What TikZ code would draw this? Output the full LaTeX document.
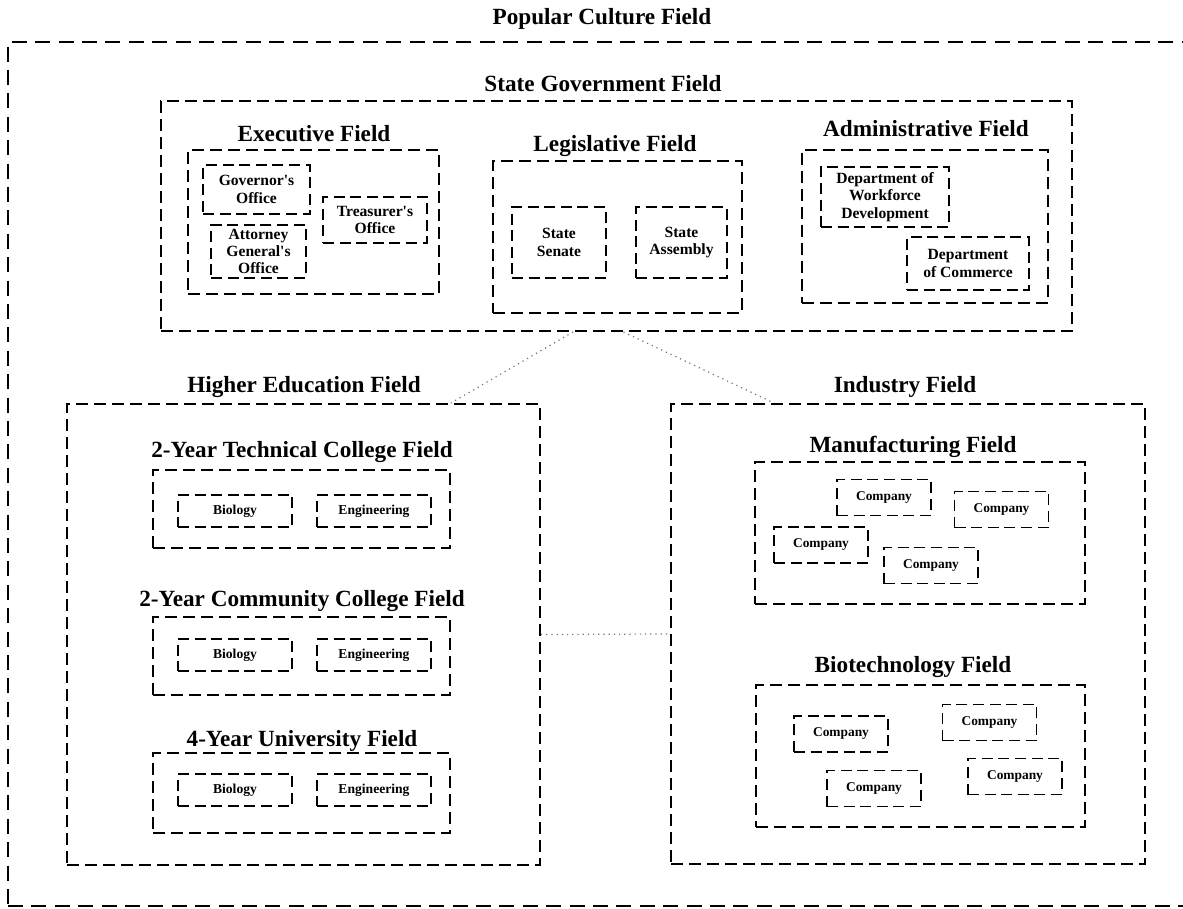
\documentclass[tikz,border=0pt]{standalone}
\usepackage{fontspec}
\setmainfont{Liberation Serif}
\usetikzlibrary{fit}
\newcommand{\ap}{\textquotesingle}
\tikzset{
  outerfield/.style={draw, line width=1pt, dash pattern=on 7.5pt off 4.2pt, inner sep=0pt},
  field/.style={draw, line width=1pt, dash pattern=on 6pt off 3pt, inner sep=0pt},
  office/.style={draw, line width=0.85pt, dash pattern=on 5.5pt off 2.8pt, inner sep=0pt, align=center,
    font=\fontsize{7.8}{8.7}\selectfont\bfseries},
  subject/.style={office, minimum width=57pt, minimum height=16pt, font=\fontsize{6.8}{8}\selectfont\bfseries},
  company/.style={office, minimum width=47pt, minimum height=18pt, font=\fontsize{6.7}{8}\selectfont\bfseries},
  fieldname/.style={anchor=base, font=\fontsize{11.6}{13}\selectfont\bfseries},
  link/.style={dotted, line width=0.6pt, black!55},
}

\begin{document}
\begin{tikzpicture}[x=0.5pt, y=-0.5pt]
  \useasboundingbox (0,0) rectangle (1183,909);
  \clip (0,0) rectangle (1183,909);

  % popular culture
  \node[fieldname] (popularname) at (602,25) {Popular Culture Field};
  \node[outerfield, fit={(8,42) (1200,906)}] (popular) {};

  % state government
  \node[fieldname] (statename) at (603,92) {State Government Field};
  \node[field, fit={(161,101) (1072,331)}] (state) {};

  \node[fieldname] (execname) at (314,141.5) {Executive Field};
  \node[field, fit={(188,150) (439,294)}] (exec) {};
  \node[office, minimum width=53.5pt, minimum height=24.5pt] (governor) at (256.5,189.5) {Governor\ap s\\Office};
  \node[office, minimum width=52pt, minimum height=23pt] (treasurer) at (375,220) {Treasurer\ap s\\Office};
  \node[office, minimum width=47.5pt, minimum height=26.5pt] (attorney) at (258.5,251.5) {Attorney\\General\ap s\\Office};

  \node[fieldname] (legisname) at (615,151.5) {Legislative Field};
  \node[field, fit={(493,161) (742,313)}] (legis) {};
  \node[office, minimum width=47pt, minimum height=35.5pt] (senate) at (559,242.5) {State\\Senate};
  \node[office, minimum width=45.5pt, minimum height=35.5pt] (assembly) at (681.5,242.5) {State\\Assembly};

  \node[fieldname] (adminname) at (926,136.5) {Administrative Field};
  \node[field, fit={(802,150) (1048,303)}] (admin) {};
  \node[office, minimum width=64pt, minimum height=30pt] (workforce) at (885,197) {Department of\\Workforce\\Development};
  \node[office, minimum width=61pt, minimum height=26.5pt] (commerce) at (968,263.5) {Department\\of Commerce};

  % higher education
  \node[fieldname] (highername) at (304,392) {Higher Education Field};
  \node[field, fit={(67,404) (540,865)}] (higher) {};

  \node[fieldname] (techname) at (302,457) {2-Year Technical College Field};
  \node[field, fit={(153,470) (450,548)}] (tech) {};
  \node[subject] (techbio) at (235,511) {Biology};
  \node[subject] (techeng) at (374,511) {Engineering};

  \node[fieldname] (commname) at (302,606) {2-Year Community College Field};
  \node[field, fit={(153,617) (450,695)}] (comm) {};
  \node[subject] (commbio) at (235,655) {Biology};
  \node[subject] (commeng) at (374,655) {Engineering};

  \node[fieldname] (univname) at (302,746) {4-Year University Field};
  \node[field, fit={(153,753) (450,833)}] (univ) {};
  \node[subject] (univbio) at (235,790) {Biology};
  \node[subject] (univeng) at (374,790) {Engineering};

  % industry
  \node[fieldname] (industryname) at (905,392) {Industry Field};
  \node[field, fit={(671,404) (1145,864)}] (industry) {};

  \node[fieldname] (manufname) at (913,452) {Manufacturing Field};
  \node[field, fit={(755,462) (1085,604)}] (manuf) {};
  \node[company] (manufa) at (884,497.5) {Company};
  \node[company] (manufb) at (1001.5,509.5) {Company};
  \node[company] (manufc) at (821,545) {Company};
  \node[company] (manufd) at (931,565.5) {Company};

  \node[fieldname] (biotechname) at (913,672) {Biotechnology Field};
  \node[field, fit={(756,685) (1085,827)}] (biotech) {};
  \node[company] (biotecha) at (841,734) {Company};
  \node[company] (biotechb) at (989.5,722.5) {Company};
  \node[company] (biotechc) at (874,788.5) {Company};
  \node[company] (biotechd) at (1015,776.5) {Company};

  % links between fields
  \draw[link] ([xshift=-21.75pt]state.south) -- ([xshift=73.75pt]higher.north);
  \draw[link] ([xshift=3.5pt]state.south) -- ([xshift=-67pt]industry.north);
  \draw[link] (higher.east) -- (industry.west);
\end{tikzpicture}
\end{document}
